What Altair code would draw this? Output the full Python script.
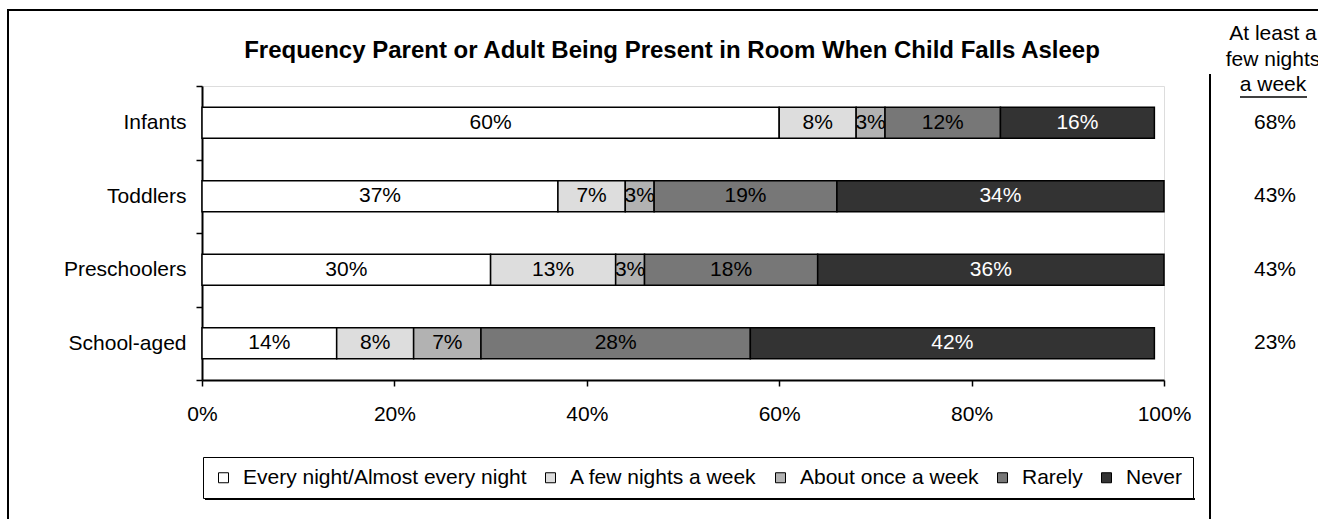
import altair as alt
import pandas as pd

categories = ["Infants", "Toddlers", "Preschoolers", "School-aged"]
series = ["Every night/Almost every night", "A few nights a week",
          "About once a week", "Rarely", "Never"]
every_night = [60, 37, 30, 14]
few_nights = [8, 7, 13, 8]
once_week = [3, 3, 3, 7]
rarely = [12, 19, 18, 28]
never = [16, 34, 36, 42]
at_least = ["68%", "43%", "43%", "23%"]
colors = ["#ffffff", "#dddddd", "#b2b2b2", "#777777", "#333333"]
x_ticks = [0, 20, 40, 60, 80, 100]
title_text = "Frequency Parent or Adult Being Present in Room When Child Falls Asleep"
header_lines = ["At least a", "few nights", "a week"]

FONT = "Liberation Sans"

rows = []
for i, c in enumerate(categories):
    start = 0
    for j, vals in enumerate([every_night, few_nights, once_week, rarely, never]):
        v = vals[i]
        rows.append(dict(cat=c, series=series[j], order=j, value=v, start=start,
                         end=start + v, mid=start + v / 2, label=f"{v}%",
                         tcolor="white" if j == 4 else "black"))
        start += v
df = pd.DataFrame(rows)
df_right = pd.DataFrame({"cat": categories, "txt": at_least})
one = pd.DataFrame({"a": [0]})

y_enc = alt.Y("cat:N", sort=categories,
              scale=alt.Scale(domain=categories, paddingInner=0, paddingOuter=0),
              axis=alt.Axis(title=None, tickBand="extent", tickSize=6, labelPadding=10,
                            labelFontSize=21, labelFont=FONT, labelColor="black",
                            domainColor="black", tickColor="black", domainWidth=2,
                            tickWidth=1.5))

bars = alt.Chart(df).mark_bar(size=31, stroke="black", strokeWidth=1.5).encode(
    y=y_enc,
    x=alt.X("start:Q", scale=alt.Scale(domain=[0, 100], nice=False),
            axis=alt.Axis(title=None, values=x_ticks, labelExpr="datum.value + '%'",
                          grid=False, tickSize=6, labelPadding=17, labelFontSize=21,
                          labelFlush=False,
                          labelFont=FONT, labelColor="black", domainColor="black",
                          tickColor="black", domainWidth=2, tickWidth=1.5)),
    x2="end:Q",
    color=alt.Color("series:N", sort=series,
                    scale=alt.Scale(domain=series, range=colors),
                    legend=alt.Legend(title=None, orient="none", legendX=1, legendY=371,
                                      direction="horizontal", columns=5,
                                      labelFontSize=21, labelFont=FONT, labelColor="black",
                                      symbolType="square", symbolSize=100,
                                      symbolStrokeColor="black", symbolStrokeWidth=1,
                                      labelOffset=9, columnPadding=13, padding=10,
                                      strokeColor="black", fillColor="white",
                                      labelLimit=400)),
)

labels = alt.Chart(df).mark_text(fontSize=21, font=FONT).encode(
    y=alt.Y("cat:N", sort=categories),
    x=alt.X("mid:Q"),
    text="label:N",
    color=alt.Color("tcolor:N", scale=None),
)

right_vals = alt.Chart(df_right).mark_text(fontSize=21, font=FONT, color="black").encode(
    y=alt.Y("cat:N", sort=categories),
    x=alt.value(1073),
    text="txt:N",
)

title = alt.Chart(one).mark_text(
    text=title_text, fontSize=24, fontWeight="bold", font=FONT, color="black",
    baseline="alphabetic", align="center").encode(
    x=alt.value(470), y=alt.value(-28))

header = alt.Chart(one).mark_text(
    text=header_lines, fontSize=21, font=FONT, color="black",
    lineHeight=25.5, baseline="middle", align="center").encode(
    x=alt.value(1071), y=alt.value(-52))

underline = alt.Chart(one).mark_rule(color="black", strokeWidth=1.5).encode(
    x=alt.value(1038), x2=alt.value(1105), y=alt.value(11))

frame_left = alt.Chart(one).mark_rule(color="black", strokeWidth=2).encode(
    x=alt.value(-194), y=alt.value(-76), y2=alt.value(440))
frame_top = alt.Chart(one).mark_rule(color="black", strokeWidth=2).encode(
    x=alt.value(-195), x2=alt.value(1120), y=alt.value(-76))
frame_div = alt.Chart(one).mark_rule(color="black", strokeWidth=2).encode(
    x=alt.value(1008), y=alt.value(-12), y2=alt.value(440))
shadow = alt.Chart(one).mark_rule(color="black", strokeWidth=2).encode(
    x=alt.value(3), x2=alt.value(993), y=alt.value(413))

chart = alt.layer(frame_left, frame_top, frame_div, shadow, bars, labels,
                  right_vals, title, header, underline).properties(
    width=962, height=294,
    padding={"left": 202, "top": 86, "right": 154, "bottom": 139},
    autosize=alt.AutoSizeParams(type="none"),
).configure_view(stroke=None).configure(background="white")

chart.save("out.html", embed_options={"renderer": "svg", "actions": False})
